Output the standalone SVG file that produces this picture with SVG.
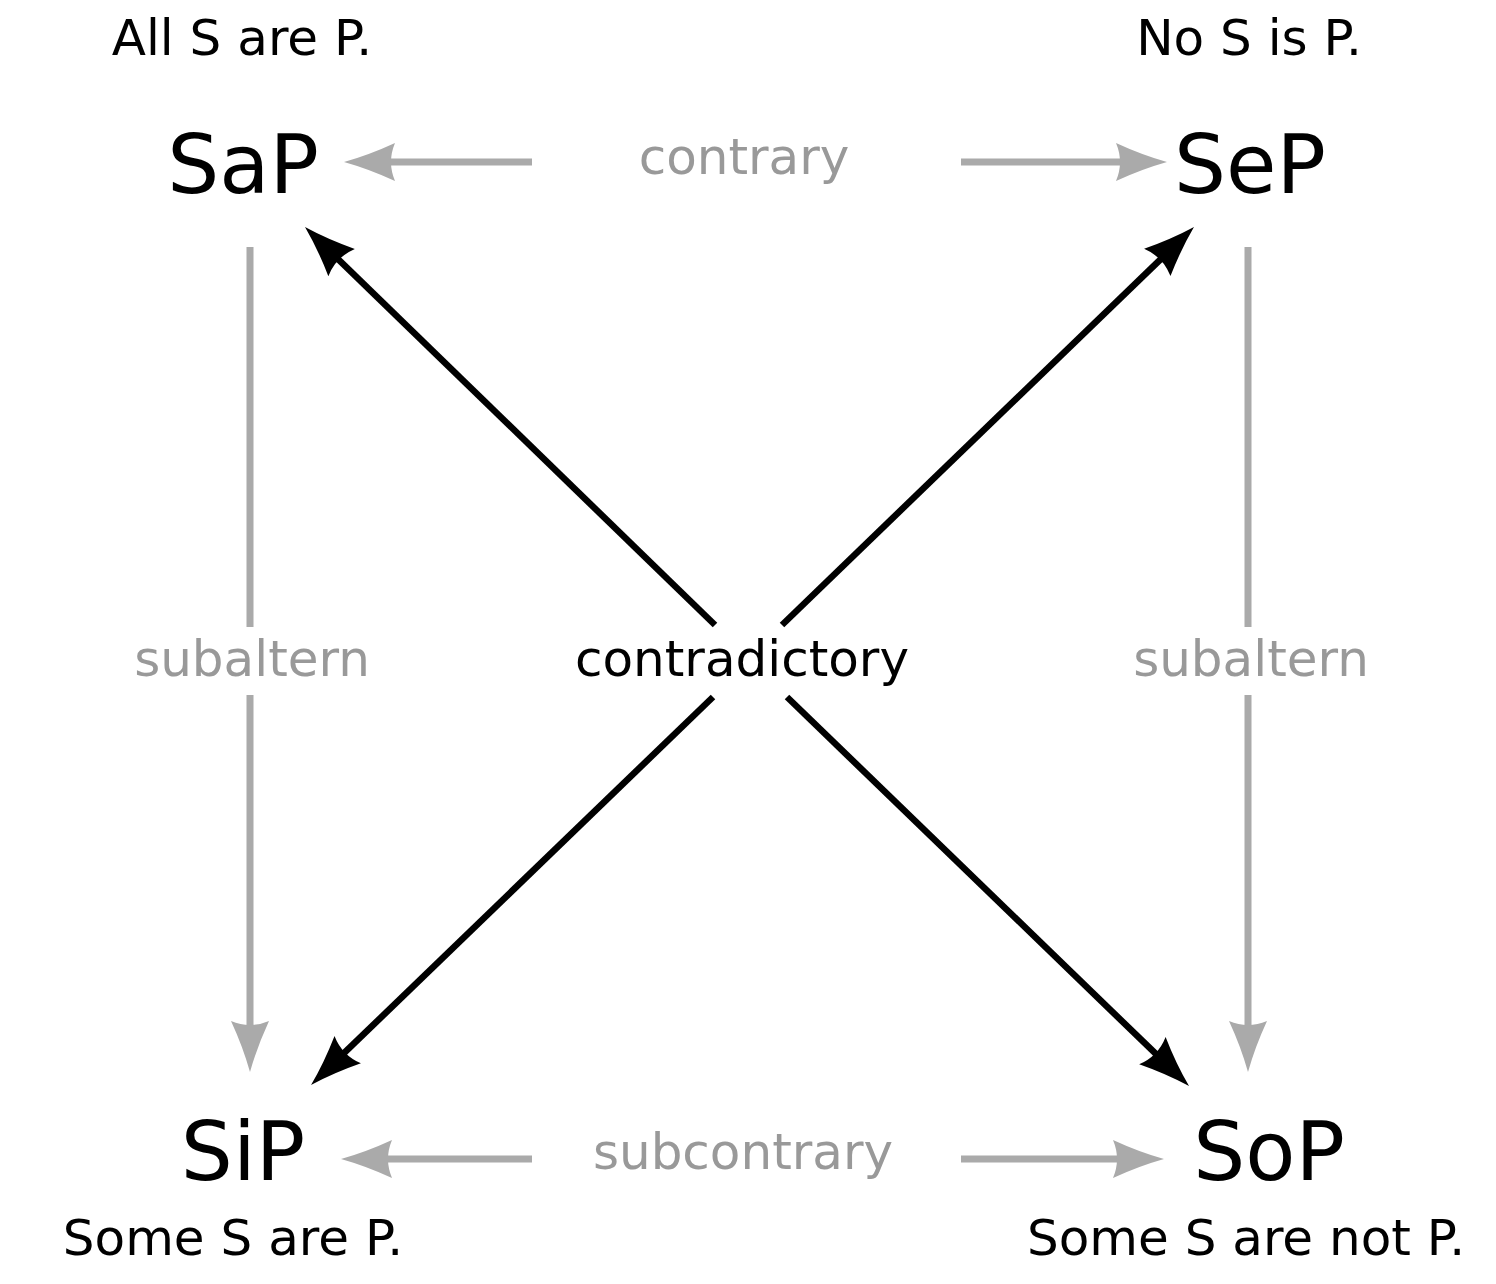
<svg xmlns="http://www.w3.org/2000/svg" width="1496" height="1284" viewBox="0 0 1496 1284">
<style>
text{font-family:"DejaVu Sans","Liberation Sans",sans-serif;text-anchor:middle}
.big{font-size:82px;fill:#000}
.cap{font-size:50px;fill:#000}
.rel{font-size:50px;fill:#999}
.g{stroke:#aaa;stroke-width:7;fill:none;marker-end:url(#ag)}
.k{stroke:#000;stroke-width:6.5;fill:none;marker-end:url(#ak)}
</style>
<defs>
<marker id="ag" markerUnits="userSpaceOnUse" markerWidth="60" markerHeight="46" viewBox="-14 -23 58 46" refX="0" refY="0" orient="auto">
<path d="M40,0 Q15,-7 -11,-19 Q-3,0 -11,19 Q15,7 40,0 Z" fill="#aaa"/>
</marker>
<marker id="ak" markerUnits="userSpaceOnUse" markerWidth="60" markerHeight="46" viewBox="-14 -23 58 46" refX="0" refY="0" orient="auto">
<path d="M40,0 Q15,-7 -11,-19 Q-3,0 -11,19 Q15,7 40,0 Z" fill="#000"/>
</marker>
</defs>
<g id="connectors">
<line class="g" x1="532" y1="162" x2="384" y2="162"/>
<line class="g" x1="961" y1="162" x2="1127" y2="162"/>
<line class="g" x1="532" y1="1159" x2="381" y2="1159"/>
<line class="g" x1="961" y1="1159" x2="1124" y2="1159"/>
<line stroke="#aaa" stroke-width="7" x1="250" y1="247" x2="250" y2="627"/>
<line class="g" x1="250" y1="695" x2="250" y2="1032"/>
<line stroke="#aaa" stroke-width="7" x1="1248" y1="247" x2="1248" y2="627"/>
<line class="g" x1="1248" y1="695" x2="1248" y2="1032"/>
<line class="k" x1="715" y1="625" x2="333.7" y2="254.9"/>
<line class="k" x1="787" y1="697" x2="1160.3" y2="1058.2"/>
<line class="k" x1="782" y1="625" x2="1165.2" y2="254.8"/>
<line class="k" x1="713" y1="697" x2="339.8" y2="1057.2"/>
</g>
<g id="SaP"><text class="cap" x="242" y="55">All S are P.</text><text class="big" x="243" y="193">SaP</text></g>
<g id="SeP"><text class="cap" x="1249" y="55">No S is P.</text><text class="big" x="1250" y="193">SeP</text></g>
<g id="SiP"><text class="big" x="243" y="1180">SiP</text><text class="cap" x="233" y="1255">Some S are P.</text></g>
<g id="SoP"><text class="big" x="1269" y="1180">SoP</text><text class="cap" x="1246" y="1255">Some S are not P.</text></g>
<g id="labels">
<text class="rel" x="744" y="174">contrary</text>
<text class="rel" x="252" y="676">subaltern</text>
<text class="rel" x="1251" y="676">subaltern</text>
<text class="cap" x="742" y="676">contradictory</text>
<text class="rel" x="743" y="1169">subcontrary</text>
</g>
</svg>
